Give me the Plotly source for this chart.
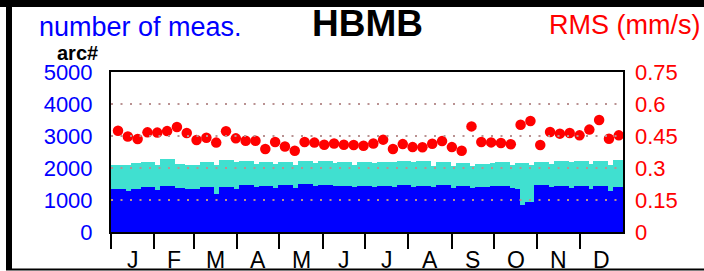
import plotly.graph_objects as go
import pandas as pd

# ---------------- data ----------------
months = ["J", "F", "M", "A", "M", "J", "J", "A", "S", "O", "N", "D"]
year = 2001  # non-leap calendar year used for the day axis

# number of measurements per 3.5-day arc (total -> turquoise, used -> blue)
total_meas = [
    2101, 2101, 2101, 2101, 2153, 2153, 2184, 2184, 2184, 2080, 2278, 2278, 2278,
    2132, 2132, 2080, 2080, 2080, 2195, 2195, 2195, 2101, 2237, 2237, 2237, 2184,
    2205, 2205, 2205, 2122, 2184, 2184, 2184, 2122, 2184, 2184, 2184, 2080, 2226,
    2226, 2226, 2153, 2205, 2205, 2205, 2153, 2174, 2174, 2174, 2101,
    2190, 2190, 2190, 2153, 2184, 2184, 2184, 2174, 2226, 2226, 2226, 2174, 2205,
    2205, 2205, 2069, 2184, 2184, 2184, 2049, 2153, 2153, 2153, 2049, 2122, 2122,
    2122, 2153,
    2184, 2184, 2184, 2101, 2153, 2153, 2153, 2101, 2195, 2195, 2195, 2132, 2205,
    2205, 2205, 2174, 2226, 2226, 2226, 2132, 2226, 2226, 2226, 2080, 2237, 2237,
]
used_meas = [
    1348, 1348, 1348, 1296, 1348, 1348, 1401, 1401, 1401, 1317, 1453, 1453, 1453,
    1380, 1380, 1359, 1359, 1359, 1422, 1422, 1422, 1192, 1411, 1411, 1411, 1330,
    1463, 1463, 1463, 1401, 1442, 1442, 1442, 1369, 1474, 1474, 1474, 1369, 1495,
    1495, 1495, 1442, 1474, 1474, 1474, 1442, 1453, 1453, 1453, 1401,
    1453, 1453, 1453, 1401, 1442, 1442, 1442, 1422, 1474, 1474, 1474, 1422, 1453,
    1453, 1453, 1401, 1463, 1463, 1463, 1369, 1453, 1453, 1453, 1390, 1422, 1422,
    1422, 1432,
    1453, 1453, 1453, 1369, 1348, 857, 930, 930, 1463, 1463, 1463, 1401, 1442,
    1442, 1442, 1390, 1442, 1442, 1442, 1348, 1442, 1442, 1442, 1286, 1422, 1422,
]
# weekly RMS (mm/s)
rms = [
    0.475, 0.448, 0.436, 0.467, 0.466, 0.473, 0.492, 0.464, 0.431, 0.442, 0.419,
    0.472, 0.439, 0.428, 0.428, 0.389, 0.422, 0.401, 0.381, 0.422, 0.419, 0.409,
    0.415, 0.409, 0.408, 0.404, 0.415, 0.433, 0.389, 0.412, 0.398, 0.397, 0.414,
    0.426, 0.398, 0.381, 0.495, 0.422, 0.420, 0.417, 0.411, 0.503, 0.520, 0.408,
    0.469, 0.461, 0.464, 0.453, 0.480, 0.525, 0.437, 0.453,
]
meas_ticks = [0, 1000, 2000, 3000, 4000, 5000]
rms_ticks = [0, 0.15, 0.3, 0.45, 0.6, 0.75]
rms_ticktext = ["0", "0.15", "0.3", "0.45", "0.6", "0.75"]
rms_first_day = 5
# ----------------------------------------------------------------

starts = pd.date_range(f"{year}-01-01", periods=13, freq="MS")
month_start_days = [float(d.dayofyear - 1) for d in starts[:12]]
year_len = 365.0
month_edges = month_start_days + [year_len]
month_mid_days = [(month_edges[i] + month_edges[i + 1]) / 2 for i in range(12)]

arc_len = year_len / len(total_meas)
arc_days = [(i + 0.5) * arc_len for i in range(len(total_meas))]
rms_days = [rms_first_day + 7 * k for k in range(len(rms))]

L, R, T, B = 111, 81, 72, 39
W, H = 704, 271
PW, PH = W - L - R, H - T - B


def px(x):
    return (x - L) / PW


def py(y):
    return (H - B - y) / PH


fig = go.Figure()
fig.add_bar(x=arc_days, y=total_meas, width=arc_len,
            marker=dict(color="#40e0d0", line=dict(width=0)), hoverinfo="skip")
fig.add_bar(x=arc_days, y=used_meas, width=arc_len,
            marker=dict(color="#0000ff", line=dict(width=0)), hoverinfo="skip")
fig.add_scatter(x=rms_days, y=rms, mode="markers", yaxis="y2",
                marker=dict(color="#ff0000", size=10.5, line=dict(width=0)),
                cliponaxis=False)

grid_shapes = [
    dict(type="line", xref="paper", x0=0, x1=1, yref="y", y0=v, y1=v,
         line=dict(color="rgb(185,145,145)", width=2, dash="2px,7.5px"), layer="above")
    for v in meas_ticks[1:-1]
]
frame_shapes = [
    dict(type="line", xref="paper", yref="paper", x0=px(0), x1=px(W + 5),
         y0=py(3.5), y1=py(3.5), line=dict(color="black", width=7)),
    dict(type="line", xref="paper", yref="paper", x0=px(9), x1=px(9),
         y0=py(0), y1=py(270), line=dict(color="black", width=6)),
    dict(type="line", xref="paper", yref="paper", x0=px(6), x1=px(W + 5),
         y0=py(269.5), y1=py(269.5), line=dict(color="black", width=2)),
]

font_family = "Liberation Sans, Arial, Helvetica, sans-serif"
annotations = [
    dict(text="number of meas.", x=px(37), y=py(27), xanchor="left", yanchor="middle",
         font=dict(size=27, color="#0000ff")),
    dict(text="<b>HBMB</b>", x=px(367.5), y=py(23), xanchor="center", yanchor="middle",
         font=dict(size=37, color="black")),
    dict(text="RMS (mm/s)", x=px(702), y=py(25), xanchor="right", yanchor="middle",
         font=dict(size=27, color="#ff0000")),
    dict(text="<b>arc#</b>", x=px(77), y=py(53), xanchor="center", yanchor="middle",
         font=dict(size=20, color="black")),
]
for a in annotations:
    a.update(xref="paper", yref="paper", showarrow=False)
for m, d in zip(months, month_mid_days):
    annotations.append(dict(text=m, x=d, xref="x", y=py(259.5), yref="paper",
                            xanchor="center", yanchor="middle", showarrow=False,
                            font=dict(size=23, color="black")))

fig.update_layout(
    width=W, height=H,
    margin=dict(l=L, r=R, t=T, b=B, pad=0, autoexpand=False),
    paper_bgcolor="white", plot_bgcolor="white",
    barmode="overlay", bargap=0, showlegend=False,
    font=dict(family=font_family, size=22, color="black"),
    xaxis=dict(range=[0, year_len], tickvals=month_start_days, ticks="outside",
               ticklen=15, tickwidth=2, tickcolor="black", showticklabels=False,
               showline=True, linecolor="black", linewidth=2, mirror=True,
               showgrid=False, zeroline=False, automargin=False),
    yaxis=dict(range=[0, 5000], tickvals=meas_ticks, ticks="", showgrid=False,
               zeroline=False, showline=True, linecolor="black", linewidth=2,
               mirror=True, tickfont=dict(size=22, color="#0000ff"),
               ticklabelstandoff=12, automargin=False),
    yaxis2=dict(range=[0, 0.75], overlaying="y", side="right", tickvals=rms_ticks,
                ticktext=rms_ticktext, ticks="", showgrid=False, zeroline=False,
                showline=False, tickfont=dict(size=22, color="#ff0000"),
                ticklabelstandoff=11, automargin=False),
    shapes=grid_shapes + frame_shapes,
    annotations=annotations,
)

fig.write_html("out.html",
               config={"displayModeBar": False, "staticPlot": True},
               post_script="document.body.style.margin='0';document.body.style.overflow='hidden';")
